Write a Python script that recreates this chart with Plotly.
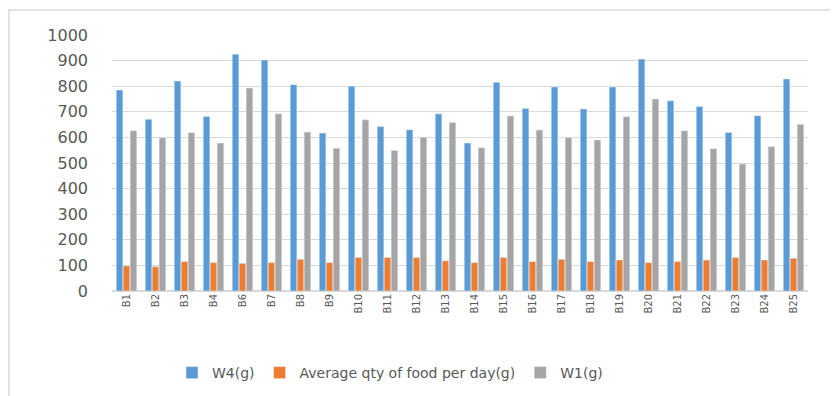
import plotly.graph_objects as go

categories = ["B1", "B2", "B3", "B4", "B6", "B7", "B8", "B9", "B10", "B11", "B12", "B13",
              "B14", "B15", "B16", "B17", "B18", "B19", "B20", "B21", "B22", "B23", "B24", "B25"]
w4 = [785, 671, 820, 682, 925, 902, 806, 617, 800, 643, 630, 692,
      578, 815, 713, 797, 711, 797, 906, 743, 721, 619, 685, 828]
food = [98, 95, 115, 111, 108, 111, 124, 111, 131, 131, 131, 118,
        111, 131, 115, 124, 115, 121, 111, 115, 121, 131, 121, 128]
w1 = [626, 599, 619, 578, 793, 692, 621, 558, 669, 549, 601, 658,
      560, 684, 629, 600, 590, 681, 750, 626, 556, 496, 564, 651]
y_ticks = [0, 100, 200, 300, 400, 500, 600, 700, 800, 900, 1000]

# page body adds an 8px offset; layout values below compensate for it
L, T, R, B = 104, 27, 800, 283
PW, PH = R - L, B - T

fig = go.Figure()
fig.add_trace(go.Bar(name="W4(g)", x=categories, y=w4, marker_color="#5B9BD5"))
fig.add_trace(go.Bar(name="Average qty of food per day(g)", x=categories, y=food, marker_color="#ED7D31"))
fig.add_trace(go.Bar(name="W1(g)", x=categories, y=w1, marker_color="#A5A5A5"))

fig.update_layout(
    width=830, height=388,
    margin=dict(l=L, r=830 - R, t=T, b=388 - B, autoexpand=False),
    paper_bgcolor="white", plot_bgcolor="white",
    barmode="group", bargap=0.28, bargroupgap=0.05,
    font=dict(family="DejaVu Sans", color="#595959"),
    showlegend=True,
    legend=dict(orientation="h", x=(164 - L) / PW, xanchor="left", y=(B - 365) / PH, yanchor="middle",
                font=dict(size=14, color="#595959"), itemwidth=30, traceorder="normal"),
    shapes=[dict(type="rect", xref="paper", yref="paper",
                 x0=(1 - L) / PW, x1=(850 - L) / PW, y0=(B - 420) / PH, y1=(B - 2) / PH,
                 line=dict(color="#D9D9D9", width=1.5), fillcolor="rgba(0,0,0,0)", layer="below")],
)
fig.update_xaxes(tickangle=-90, tickfont=dict(size=10, color="#595959"), showgrid=False,
                 showline=False, ticks="", ticklen=0, automargin=False)
fig.update_yaxes(range=[0, 1000], tickvals=y_ticks, tickfont=dict(size=16, color="#595959"),
                 showgrid=True, gridcolor="#D9D9D9", gridwidth=1, zeroline=True,
                 zerolinecolor="#D9D9D9", showline=False, ticks="", ticklabelstandoff=23,
                 automargin=False)

fig.write_html("out.html")
